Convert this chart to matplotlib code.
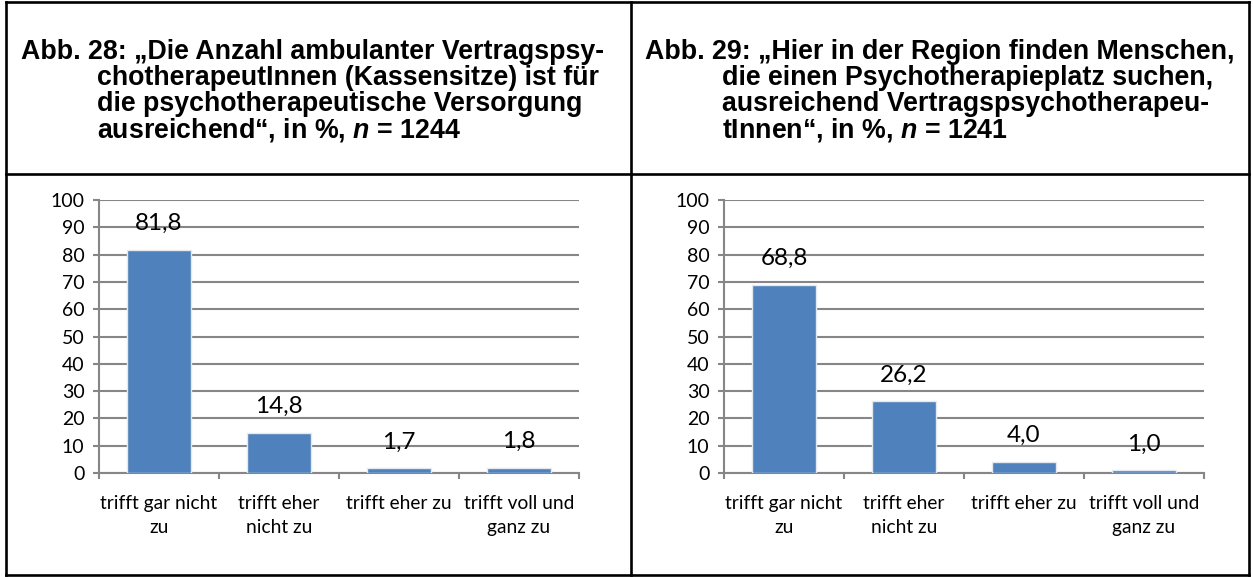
import matplotlib
matplotlib.use("Agg")
import matplotlib.pyplot as plt
from matplotlib.lines import Line2D

# Daten
kategorien = ["trifft gar nicht\nzu", "trifft eher\nnicht zu", "trifft eher zu", "trifft voll und\nganz zu"]
werte_28 = [81.8, 14.8, 1.7, 1.8]
werte_29 = [68.8, 26.2, 4.0, 1.0]
titel_28 = ["Abb. 28: \u201eDie Anzahl ambulanter Vertragspsy-",
            "chotherapeutInnen (Kassensitze) ist f\u00fcr",
            "die psychotherapeutische Versorgung",
            "ausreichend\u201c, in %, $n$ = 1244"]
titel_29 = ["Abb. 29: \u201eHier in der Region finden Menschen,",
            "die einen Psychotherapieplatz suchen,",
            "ausreichend Vertragspsychotherapeu-",
            "tInnen\u201c, in %, $n$ = 1241"]
yticks = list(range(0, 101, 10))

plt.rcParams["mathtext.fontset"] = "custom"
plt.rcParams["mathtext.it"] = "Liberation Sans:italic:bold"
plt.rcParams["mathtext.rm"] = "Liberation Sans:bold"

W, H = 1253, 577
fig = plt.figure(figsize=(W / 100, H / 100), dpi=100)

def fx(px):
    return px / W

def fy(py):
    return 1 - py / H

# Tabellenrahmen
rahmen = dict(color="black", lw=1.9, transform=fig.transFigure)
for xs, ys in [([6, 1249], [2, 2]), ([6, 1249], [174, 174]), ([6, 1249], [575, 575]),
               ([6, 6], [2, 575]), ([631, 631], [2, 575]), ([1249, 1249], [2, 575])]:
    fig.add_artist(Line2D([fx(x) for x in xs], [fy(y) for y in ys], **rahmen))

# Titel
def titel(lines, x0, indent):
    for i, t in enumerate(lines):
        x = x0 if i == 0 else x0 + indent
        fig.text(fx(x), fy(59 + i * 26), t, family="Liberation Sans", weight="bold",
                 fontsize=19.3, va="baseline", ha="left")

titel(titel_28, 21, 76)
titel(titel_29, 645, 77)

grau = "#868686"

def diagramm(left_px, werte):
    ax = fig.add_axes([fx(left_px), fy(473), fx(480), 273 / H])
    x = range(len(werte))
    ax.bar(x, werte, width=0.53, color="#4F81BD", edgecolor="#e4e9f0", lw=1.0, zorder=3)
    ax.set_xlim(-0.5, len(werte) - 0.5)
    ax.set_ylim(0, 100)
    ax.set_yticks(yticks)
    ax.set_yticklabels([str(v) for v in yticks], family="Lato", fontsize=14)
    ax.grid(axis="y", color=grau, lw=1.5, zorder=0)
    ax.set_axisbelow(True)
    for s in ["top", "right"]:
        ax.spines[s].set_visible(False)
    ax.spines["left"].set_color(grau)
    ax.spines["left"].set_linewidth(1.5)
    ax.spines["bottom"].set_color(grau)
    ax.spines["bottom"].set_linewidth(1.5)
    ax.tick_params(axis="y", length=4.5, width=1.5, color=grau, pad=6)
    ax.set_xticks(list(x))
    ax.set_xticklabels(kategorien, family="Lato", fontsize=13.8, linespacing=1.45)
    ax.tick_params(axis="x", which="major", length=0, pad=16)
    ax.set_xticks([i - 0.5 for i in range(len(werte) + 1)], minor=True)
    ax.tick_params(axis="x", which="minor", length=4.5, width=1.5, color=grau)
    for i, v in enumerate(werte):
        ax.annotate(f"{v:.1f}".replace(".", ","), (i, v), xytext=(0, 19),
                    textcoords="offset points", ha="center", va="center",
                    family="Lato", fontsize=17.5)
    return ax

diagramm(99, werte_28)
diagramm(724, werte_29)

fig.savefig("out.png", dpi=100)
